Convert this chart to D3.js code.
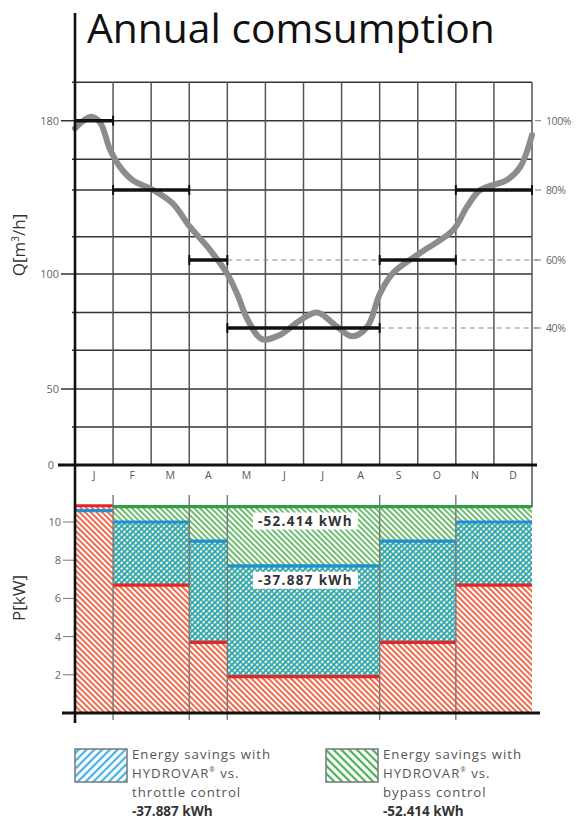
<!DOCTYPE html>
<html>
<head>
<meta charset="utf-8">
<script src="https://cdn.jsdelivr.net/npm/d3@7"></script>
<style>
  html, body { margin: 0; padding: 0; background: #fff; }
  svg { display: block; }
  text { font-family: "Open Sans", "Noto Sans", sans-serif; }
</style>
</head>
<body>
<svg id="chart" width="579" height="820"></svg>
<script>
// ---------------- DATA ----------------
const months = ["J","F","M","A","M","J","J","A","S","O","N","D"];

// flow curve (months from start of year, Q in m3/h)
const curveMonth = [0,0.42,0.66,0.92,1.18,1.52,2.05,2.57,3.02,3.47,4.0,4.25,4.54,4.91,5.38,5.91,6.36,6.83,7.27,7.67,8.01,8.35,9.06,9.93,10.29,10.64,11.34,11.69,12];
const curveQ     = [176,182,179,165,156,149,144,137,125,115,100,90,76,68,69.5,76,80,73.5,69,72.5,90,100.6,111.6,123.4,135.3,144,149.2,156,172.6];

// operating stages
const stageStart = [0,1,3,4,8,10];
const stageEnd   = [1,3,4,8,10,12];
const stagePct   = [100,80,60,40,60,80];        // % of Qmax
const qMax = 180;

// power per stage [kW]
const hydrovarKW = [10.85,6.7,3.7,1.9,3.7,6.7];
const throttleKW = [10.6,10.0,9.0,7.7,9.0,10.0];
const bypassKW   = [10.85,10.8,10.8,10.8,10.8,10.8];

// axis ticks
const qLabelTicks = [0,50,100,180];
const qGridTicks  = [0,25,50,64,80,100,120,144,160,180,200];
const pctTicks    = [100,80,60,40];
const dashedPct   = [60,40];
const pTicks      = [2,4,6,8,10];

const savingsThrottle = "-37.887 kWh";
const savingsBypass   = "-52.414 kWh";

// ---------------- LAYOUT ----------------
const svg = d3.select("#chart");
const defs = svg.append("defs");

const x = d3.scaleLinear().domain([0,12]).range([75,532]);
const yQ = d3.scaleLinear()
  .domain([0,50,72,100,108,144,180])
  .range([465,389,328,274,260,190,120.7]);
const yP = d3.scaleLinear().domain([0,10]).range([713,522]);

function hatch(id, color, angle, size, lw) {
  const p = defs.append("pattern").attr("id", id)
    .attr("patternUnits","userSpaceOnUse")
    .attr("width", size).attr("height", size)
    .attr("patternTransform", `rotate(${angle})`);
  p.append("line").attr("x1", size/2).attr("y1", -1).attr("x2", size/2).attr("y2", size+1)
    .attr("stroke", color).attr("stroke-width", lw);
}
hatch("redH",   "#f06a4c", -45, 4, 2.0);
hatch("greenH", "#5fb760", -45, 4, 1.8);
hatch("blueH",  "#1fa0cc",  45, 4, 1.8);
hatch("blueL",  "#45b0e6",  45, 5.5, 2.2);
hatch("greenL", "#4aae55", -45, 5.5, 2.2);

function fitSpacing(t, target) {
  const w = t.node().getComputedTextLength();
  const n = t.text().length;
  t.attr("letter-spacing", (target - w) / n);
}

// ---------------- TOP CHART ----------------
const title = svg.append("text").attr("x", 87).attr("y", 43)
  .attr("font-size", 40).attr("fill", "#111").text("Annual comsumption");
(function fit(){ const w = title.node().getComputedTextLength(); title.attr("font-size", 40*408/w); })();

const grid = svg.append("g");
grid.selectAll("line.h").data(qGridTicks.filter(d => d > 0)).join("line")
  .attr("x1", d => qLabelTicks.includes(d) ? 61 : 72).attr("x2", x(12))
  .attr("y1", d => yQ(d)).attr("y2", d => yQ(d))
  .attr("stroke", "#333").attr("stroke-width", 1.5);
grid.selectAll("line.v").data(d3.range(1,13)).join("line")
  .attr("x1", d => x(d)).attr("x2", d => x(d))
  .attr("y1", yQ(200)).attr("y2", d => d === 12 ? 507 : yQ(0))
  .attr("stroke", "#555").attr("stroke-width", 1.5);

svg.selectAll("text.ql").data(qLabelTicks).join("text")
  .attr("x", d => d === 0 ? 54 : 59).attr("y", d => yQ(d) + 4)
  .attr("text-anchor", "end").attr("font-size", 11).attr("fill", "#666")
  .text(d => d);

svg.selectAll("line.pt").data(pctTicks).join("line")
  .attr("x1", x(12)+3).attr("x2", x(12)+9)
  .attr("y1", d => yQ(d*qMax/100)).attr("y2", d => yQ(d*qMax/100))
  .attr("stroke", "#777").attr("stroke-width", 1);
svg.selectAll("text.pl").data(pctTicks).join("text")
  .attr("x", 546).attr("y", d => yQ(d*qMax/100) + 4)
  .attr("font-size", 10.5).attr("fill", "#666").attr("letter-spacing", -0.4)
  .text(d => d + "%");

dashedPct.forEach(p => {
  const i = stagePct.indexOf(p);
  svg.append("line")
    .attr("x1", x(stageEnd[i])).attr("x2", x(12)+9)
    .attr("y1", yQ(p*qMax/100)).attr("y2", yQ(p*qMax/100))
    .attr("stroke", "#888").attr("stroke-width", 1.2).attr("stroke-dasharray", "5,4");
});

svg.selectAll("text.m").data(months).join("text")
  .attr("x", (d,i) => x(i+0.5)).attr("y", 479)
  .attr("text-anchor", "middle").attr("font-size", 10.5).attr("fill", "#555")
  .text(d => d);

const pts = curveMonth.map((m,i) => [m, curveQ[i]]);
svg.append("path").datum(pts)
  .attr("d", d3.line().x(d => x(d[0])).y(d => yQ(d[1])).curve(d3.curveCatmullRom.alpha(0.5)))
  .attr("fill", "none").attr("stroke", "#8c8c8c").attr("stroke-width", 6)
  .attr("stroke-linecap", "round");

const steps = svg.append("g");
stagePct.forEach((p,i) => {
  const yy = yQ(p*qMax/100);
  steps.append("line").attr("x1", x(stageStart[i])).attr("x2", x(stageEnd[i]))
    .attr("y1", yy).attr("y2", yy).attr("stroke", "#111").attr("stroke-width", 3.5);
  [stageStart[i], stageEnd[i]].forEach(s => {
    if (s === 0) return;
    steps.append("line").attr("x1", x(s)).attr("x2", x(s))
      .attr("y1", yy-5).attr("y2", yy+5).attr("stroke", "#111").attr("stroke-width", 2);
  });
});

svg.append("line").attr("x1", 58).attr("x2", 537).attr("y1", yQ(0)).attr("y2", yQ(0))
  .attr("stroke", "#111").attr("stroke-width", 2.8);

// ---------------- BOTTOM CHART ----------------
const bars = svg.append("g");
stagePct.forEach((p,i) => {
  const x0 = x(stageStart[i]), x1 = x(stageEnd[i]);
  bars.append("rect").attr("x", x0).attr("width", x1-x0)
    .attr("y", yP(hydrovarKW[i])).attr("height", yP(0)-yP(hydrovarKW[i]))
    .attr("fill", "url(#redH)");
  if (bypassKW[i] > hydrovarKW[i]) {
    bars.append("rect").attr("x", x0).attr("width", x1-x0)
      .attr("y", yP(bypassKW[i])).attr("height", yP(hydrovarKW[i])-yP(bypassKW[i]))
      .attr("fill", "url(#greenH)");
  }
  if (throttleKW[i] > hydrovarKW[i]) {
    bars.append("rect").attr("x", x0).attr("width", x1-x0)
      .attr("y", yP(throttleKW[i])).attr("height", yP(hydrovarKW[i])-yP(throttleKW[i]))
      .attr("fill", "url(#blueH)");
  }
});
const lvl = svg.append("g");
function levelLines(arr, color, skipFirst) {
  arr.forEach((v,i) => {
    if (skipFirst && i === 0) return;
    lvl.append("line").attr("x1", x(stageStart[i])).attr("x2", x(stageEnd[i]))
      .attr("y1", yP(v)).attr("y2", yP(v)).attr("stroke", color).attr("stroke-width", 3.2);
  });
}
levelLines(bypassKW, "#2f9e45", true);
levelLines(throttleKW, "#1d8fd3", false);
levelLines(hydrovarKW, "#e3262b", false);

svg.selectAll("line.sep").data(stageEnd.slice(0,-1)).join("line")
  .attr("x1", d => x(d)).attr("x2", d => x(d))
  .attr("y1", 495).attr("y2", 720)
  .attr("stroke", "#777").attr("stroke-width", 1.4);

function boxLabel(txt, cx, cy) {
  const g = svg.append("g");
  const t = g.append("text").attr("x", cx).attr("y", cy + 4.5)
    .attr("text-anchor", "middle").attr("font-size", 13.5).attr("font-weight", "bold")
    .attr("fill", "#333").text(txt);
  fitSpacing(t, 95);
  const w = 95;
  g.insert("rect", "text").attr("x", cx - w/2 - 5).attr("y", cy - 8.5)
    .attr("width", w + 10).attr("height", 17).attr("fill", "#fff");
}
boxLabel(savingsBypass, x(6.05), yP(10.05));
boxLabel(savingsThrottle, x(6.05), yP(6.95));

svg.selectAll("line.pt2").data(pTicks).join("line")
  .attr("x1", 63).attr("x2", 75).attr("y1", d => yP(d)).attr("y2", d => yP(d))
  .attr("stroke", "#777").attr("stroke-width", 1);
svg.selectAll("text.pl2").data(pTicks).join("text")
  .attr("x", 61).attr("y", d => yP(d) + 4).attr("text-anchor", "end")
  .attr("font-size", 11).attr("fill", "#666").text(d => d);

svg.append("line").attr("x1", 62).attr("x2", 540).attr("y1", yP(0)).attr("y2", yP(0))
  .attr("stroke", "#111").attr("stroke-width", 2.8);

svg.append("line").attr("x1", 75).attr("x2", 75).attr("y1", 13).attr("y2", 723)
  .attr("stroke", "#111").attr("stroke-width", 2.6);

svg.append("text").attr("transform", `translate(25,${245}) rotate(-90)`)
  .attr("text-anchor", "middle").attr("font-size", 17).attr("fill", "#333")
  .html('Q[m<tspan font-size="10" dy="-6">3</tspan><tspan dy="6">/h]</tspan>');
svg.append("text").attr("transform", `translate(25,${598}) rotate(-90)`)
  .attr("text-anchor", "middle").attr("font-size", 17).attr("fill", "#333")
  .text("P[kW]");

// ---------------- LEGEND ----------------
function legend(x0, pat, lines, last) {
  svg.append("rect").attr("x", x0).attr("y", 749).attr("width", 52).attr("height", 33)
    .attr("fill", `url(#${pat})`).attr("stroke", "#777").attr("stroke-width", 1.5);
  const tx = x0 + 57;
  const baselines = [759, 778, 797, 816];
  const fs = 13.2;
  const l1 = svg.append("text").attr("x", tx).attr("y", baselines[0])
    .attr("font-size", fs).attr("fill", "#555").text(lines[0]);
  fitSpacing(l1, 139);
  const ls = l1.attr("letter-spacing");
  svg.append("text").attr("x", tx).attr("y", baselines[1]).attr("font-size", fs).attr("fill", "#555")
    .attr("letter-spacing", ls)
    .html('HYDROVAR<tspan font-size="' + (fs*0.5) + '" dy="-6">®</tspan><tspan dy="6"> vs.</tspan>');
  svg.append("text").attr("x", tx).attr("y", baselines[2]).attr("font-size", fs).attr("fill", "#555")
    .attr("letter-spacing", ls).text(lines[1]);
  svg.append("text").attr("x", tx).attr("y", baselines[3]).attr("font-size", 13.5).attr("fill", "#333")
    .attr("font-weight", "bold").text(last);
}
legend(75, "blueL", ["Energy savings with", "throttle control"], savingsThrottle);
legend(326, "greenL", ["Energy savings with", "bypass control"], savingsBypass);
</script>
</body>
</html>
